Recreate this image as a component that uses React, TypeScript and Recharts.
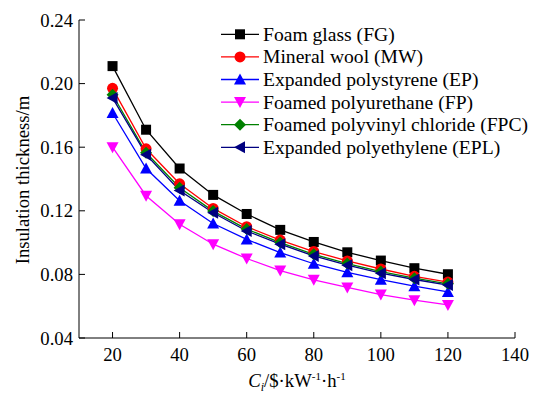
import { LineChart, Line, XAxis, YAxis } from 'recharts';

const costs = [20, 30, 40, 50, 60, 70, 80, 90, 100, 110, 120];
const foamGlass = [0.211, 0.171, 0.1466, 0.130, 0.118, 0.108, 0.1004, 0.0939, 0.0887, 0.0839, 0.0801];
const mineralWool = [0.197, 0.159, 0.137, 0.1215, 0.110, 0.1016, 0.0944, 0.0885, 0.0834, 0.0788, 0.0752];
const polystyrene = [0.1815, 0.1466, 0.1263, 0.112, 0.102, 0.0937, 0.0867, 0.0813, 0.0767, 0.0726, 0.069];
const polyurethane = [0.160, 0.1295, 0.1115, 0.099, 0.090, 0.0824, 0.0766, 0.0718, 0.0673, 0.0638, 0.0608];
const pvc = [0.193, 0.1565, 0.1345, 0.1198, 0.1085, 0.100, 0.0926, 0.0868, 0.0818, 0.0776, 0.0741];
const polyethylene = [0.191, 0.1553, 0.1328, 0.1188, 0.1073, 0.099, 0.0916, 0.0858, 0.0808, 0.0768, 0.0733];

const xTicks = [20, 40, 60, 80, 100, 120, 140];
const yTicks = [0.04, 0.08, 0.12, 0.16, 0.2, 0.24];

type Shape = 'square' | 'circle' | 'up' | 'down' | 'diamond' | 'left';

const series: { key: string; name: string; color: string; shape: Shape; values: number[] }[] = [
  { key: 'fg', name: 'Foam glass (FG)', color: '#000000', shape: 'square', values: foamGlass },
  { key: 'mw', name: 'Mineral wool (MW)', color: '#ff0000', shape: 'circle', values: mineralWool },
  { key: 'ep', name: 'Expanded polystyrene (EP)', color: '#0000ff', shape: 'up', values: polystyrene },
  { key: 'fp', name: 'Foamed polyurethane (FP)', color: '#ff00ff', shape: 'down', values: polyurethane },
  { key: 'fpc', name: 'Foamed polyvinyl chloride (FPC)', color: '#008000', shape: 'diamond', values: pvc },
  { key: 'epl', name: 'Expanded polyethylene (EPL)', color: '#000080', shape: 'left', values: polyethylene },
];

const data = costs.map((c, i) => {
  const row: Record<string, number> = { c };
  series.forEach((s) => {
    row[s.key] = s.values[i];
  });
  return row;
});

const FONT = '"Liberation Serif", "Times New Roman", serif';
const FS = 18.7;

const Marker = ({ cx, cy, shape, color }: { cx: number; cy: number; shape: Shape; color: string }) => {
  switch (shape) {
    case 'square':
      return <rect x={cx - 5} y={cy - 5} width={10} height={10} fill={color} />;
    case 'circle':
      return <circle cx={cx} cy={cy} r={5.5} fill={color} />;
    case 'up':
      return <polygon points={`${cx},${cy - 6} ${cx + 6},${cy + 5} ${cx - 6},${cy + 5}`} fill={color} />;
    case 'down':
      return <polygon points={`${cx},${cy + 6} ${cx + 6},${cy - 5} ${cx - 6},${cy - 5}`} fill={color} />;
    case 'diamond':
      return <polygon points={`${cx},${cy - 6} ${cx + 6},${cy} ${cx},${cy + 6} ${cx - 6},${cy}`} fill={color} />;
    default:
      return <polygon points={`${cx - 6},${cy} ${cx + 5},${cy - 6} ${cx + 5},${cy + 6}`} fill={color} />;
  }
};

// legend drawn as an svg overlay so it does not take space from the plot
const LegendBox = () => (
  <svg
    width={310}
    height={150}
    style={{ position: 'absolute', left: 221, top: 23, pointerEvents: 'none', overflow: 'visible' }}
  >
    {series.map((s, i) => {
      const cy = 11.3 + i * 22.6;
      return (
        <g key={s.key}>
          <line x1={0} y1={cy} x2={38} y2={cy} stroke={s.color} strokeWidth={1.3} />
          <Marker cx={19} cy={cy} shape={s.shape} color={s.color} />
          <text x={42} y={cy} dominantBaseline="central" fontFamily={FONT} fontSize={19.6} fill="#000">
            {s.name}
          </text>
        </g>
      );
    })}
  </svg>
);

export default function App() {
  return (
    <div style={{ position: 'absolute', left: 0, top: 0, width: 534, height: 394, background: '#fff' }}>
      <LineChart width={534} height={394} data={data} margin={{ top: 20, right: 19, left: 0, bottom: 0 }}>
        <XAxis
          dataKey="c"
          type="number"
          domain={[10, 140]}
          ticks={xTicks}
          height={56}
          tickSize={-6}
          tickMargin={16}
          stroke="#000"
          tick={{ fill: '#000', fontSize: FS, fontFamily: FONT }}
          label={{
            content: () => (
              <text x={297} y={387} textAnchor="middle" fontFamily={FONT} fontSize={FS} fill="#000">
                <tspan fontStyle="italic">C</tspan>
                <tspan fontStyle="italic" fontSize={12} dy={4}>i</tspan>
                <tspan dy={-4}>/$·kW</tspan>
                <tspan fontSize={11} dy={-7}>-1</tspan>
                <tspan dy={7}>·h</tspan>
                <tspan fontSize={11} dy={-7}>-1</tspan>
              </text>
            ),
          }}
        />
        <YAxis
          type="number"
          domain={[0.04, 0.24]}
          ticks={yTicks}
          width={79}
          tickSize={-6}
          tickMargin={12}
          stroke="#000"
          tickFormatter={(v: number) => v.toFixed(2)}
          tick={{ fill: '#000', fontSize: FS, fontFamily: FONT }}
          label={{
            content: () => (
              <text
                x={22}
                y={180}
                transform="rotate(-90 22 180)"
                textAnchor="middle"
                dominantBaseline="central"
                fontFamily={FONT}
                fontSize={FS}
                fill="#000"
              >
                Insulation thickness/m
              </text>
            ),
          }}
        />
        {series.map((s) => (
          <Line
            key={s.key}
            dataKey={s.key}
            name={s.name}
            type="linear"
            stroke={s.color}
            strokeWidth={1.3}
            isAnimationActive={false}
            dot={(p: any) => (
              <Marker key={`${s.key}-${p.index}`} cx={p.cx} cy={p.cy} shape={s.shape} color={s.color} />
            )}
            activeDot={false}
          />
        ))}
      </LineChart>
      <LegendBox />
    </div>
  );
}
